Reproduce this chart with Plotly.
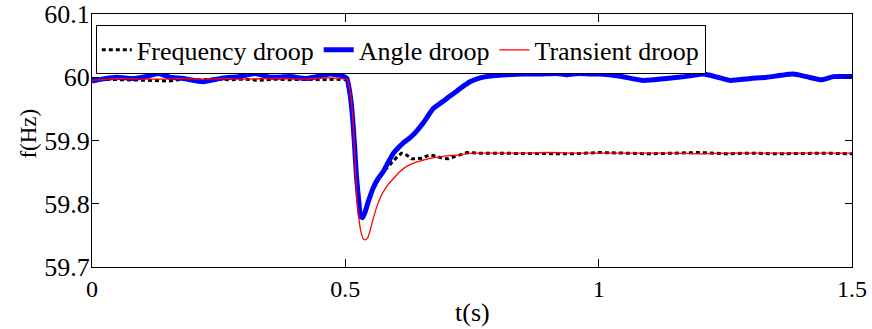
import plotly.graph_objects as go

# Frequency response of the three droop controllers
t_freq = [0, 0.03, 0.06, 0.09, 0.12, 0.15, 0.18, 0.21, 0.24, 0.27, 0.30, 0.33, 0.36,
          0.39, 0.42, 0.45, 0.48, 0.503, 0.508, 0.513, 0.518, 0.522, 0.527, 0.530,
          0.534, 0.539, 0.546, 0.555, 0.565, 0.575, 0.584, 0.593, 0.602, 0.611,
          0.621, 0.631, 0.641, 0.651, 0.659, 0.667, 0.68, 0.692, 0.703, 0.715,
          0.727, 0.740, 0.76, 0.8, 0.85, 0.9, 0.95, 1.0, 1.05, 1.1, 1.15, 1.2,
          1.25, 1.3, 1.35, 1.4, 1.45, 1.5]
f_freq = [59.996, 59.997, 59.996, 59.996, 59.995, 59.994, 59.997, 59.996, 59.997,
          59.996, 59.997, 59.995, 59.997, 59.996, 59.997, 59.996, 59.997, 59.996,
          59.975, 59.945, 59.893, 59.842, 59.800, 59.780, 59.778, 59.787, 59.805,
          59.825, 59.840, 59.851, 59.858, 59.866, 59.874, 59.880, 59.877, 59.871,
          59.871, 59.872, 59.875, 59.877, 59.875, 59.872, 59.871, 59.874, 59.878,
          59.881, 59.880, 59.880, 59.879, 59.880, 59.879, 59.881, 59.880, 59.879,
          59.880, 59.881, 59.879, 59.880, 59.879, 59.880, 59.880, 59.879]

t_angle = [0, 0.02, 0.049, 0.081, 0.105, 0.131, 0.154, 0.18, 0.219, 0.259, 0.29,
           0.322, 0.351, 0.391, 0.424, 0.47, 0.495, 0.503, 0.508, 0.513, 0.518,
           0.522, 0.527, 0.530, 0.534, 0.539, 0.546, 0.555, 0.565, 0.575, 0.585,
           0.595, 0.605, 0.614, 0.624, 0.634, 0.644, 0.654, 0.664, 0.674, 0.684,
           0.693, 0.706, 0.720, 0.733, 0.746, 0.766, 0.786, 0.82, 0.851, 0.885,
           0.917, 0.937, 0.96, 0.983, 1.003, 1.04, 1.088, 1.134, 1.17, 1.206,
           1.235, 1.259, 1.30, 1.332, 1.36, 1.384, 1.41, 1.44, 1.463, 1.5]
f_angle = [59.994, 59.997, 60.000, 59.998, 60.001, 60.006, 60.000, 59.998, 59.993,
           59.999, 60.001, 60.006, 60.000, 60.001, 59.998, 60.005, 60.002, 59.998,
           59.980, 59.948, 59.895, 59.843, 59.800, 59.780, 59.778, 59.787, 59.805,
           59.825, 59.840, 59.851, 59.866, 59.880, 59.889, 59.896, 59.902, 59.909,
           59.918, 59.928, 59.940, 59.951, 59.957, 59.962, 59.970, 59.978, 59.986,
           59.993, 59.999, 60.002, 60.004, 60.005, 60.005, 60.006, 60.004, 60.006,
           60.005, 60.005, 60.002, 59.995, 59.998, 60.001, 60.005, 60.000, 59.995,
           59.998, 60.000, 60.003, 60.005, 60.001, 59.996, 60.001, 60.001]

t_trans = [0, 0.03, 0.06, 0.1, 0.14, 0.18, 0.22, 0.26, 0.3, 0.34, 0.38, 0.42, 0.46,
           0.49, 0.504, 0.510, 0.516, 0.522, 0.527, 0.531, 0.535, 0.539, 0.544,
           0.549, 0.555, 0.562, 0.568, 0.575, 0.585, 0.595, 0.608, 0.621, 0.637,
           0.654, 0.670, 0.687, 0.703, 0.720, 0.737, 0.753, 0.8, 0.85, 0.9, 0.95,
           1.0, 1.05, 1.1, 1.15, 1.2, 1.25, 1.3, 1.35, 1.4, 1.45, 1.5]
f_trans = [59.995, 59.997, 59.998, 59.997, 59.997, 59.998, 59.997, 59.998, 59.997,
           59.998, 59.998, 59.997, 59.999, 59.998, 59.996, 59.975, 59.922, 59.817,
           59.775, 59.755, 59.745, 59.743, 59.746, 59.758, 59.776, 59.795, 59.808,
           59.819, 59.831, 59.840, 59.851, 59.859, 59.865, 59.869, 59.872, 59.874,
           59.876, 59.877, 59.879, 59.880, 59.880, 59.880, 59.881, 59.880, 59.880,
           59.880, 59.880, 59.880, 59.879, 59.880, 59.880, 59.880, 59.880, 59.880,
           59.880]

x_ticks = [0, 0.5, 1, 1.5]
x_tick_text = ["0", "0.5", "1", "1.5"]
y_ticks = [59.7, 59.8, 59.9, 60.0, 60.1]
y_tick_text = ["59.7", "59.8", "59.9", "60", "60.1"]

SERIF = "Times New Roman"

fig = go.Figure()
fig.add_trace(go.Scatter(x=t_freq, y=f_freq, mode="lines", name="Frequency droop",
                         line=dict(color="black", width=3, dash="4px,3px")))
fig.add_trace(go.Scatter(x=t_angle, y=f_angle, mode="lines", name="Angle droop",
                         line=dict(color="#0000ff", width=5, shape="spline", smoothing=0.5)))
fig.add_trace(go.Scatter(x=t_trans, y=f_trans, mode="lines", name="Transient droop",
                         line=dict(color="#ff0000", width=1.3, shape="spline", smoothing=0.5)))

axis_common = dict(showgrid=False, zeroline=False, showline=True, mirror="ticks",
                   linecolor="black", linewidth=1, ticks="inside", tickcolor="black",
                   tickwidth=1, automargin=False)

fig.update_layout(
    width=872, height=329,
    margin=dict(l=92, r=20, t=14, b=62, autoexpand=False),
    paper_bgcolor="white", plot_bgcolor="white",
    font=dict(family=SERIF, color="black", size=26),
    showlegend=True,
    legend=dict(orientation="h", x=0.005, y=0.955, xanchor="left", yanchor="top",
                bgcolor="white", bordercolor="black", borderwidth=1,
                font=dict(family=SERIF, size=26), itemwidth=30, tracegroupgap=0),
    xaxis=dict(range=[0, 1.5], tickvals=x_ticks, ticktext=x_tick_text, ticklen=8,
               tickfont=dict(family=SERIF, size=24), **axis_common),
    yaxis=dict(range=[59.7, 60.1], tickvals=y_ticks, ticktext=y_tick_text, ticklen=7,
               tickfont=dict(family=SERIF, size=26), ticklabelstandoff=-4,
               **axis_common),
    annotations=[
        dict(text="t(s)", xref="paper", yref="paper", x=0.5, y=-0.178,
             xanchor="center", yanchor="middle", showarrow=False,
             font=dict(family=SERIF, size=26)),
        dict(text="f(Hz)", xref="paper", yref="paper", x=-0.084, y=0.528,
             xanchor="center", yanchor="middle", textangle=-90, showarrow=False,
             font=dict(family=SERIF, size=23)),
    ],
)

fig.write_html("out.html")
